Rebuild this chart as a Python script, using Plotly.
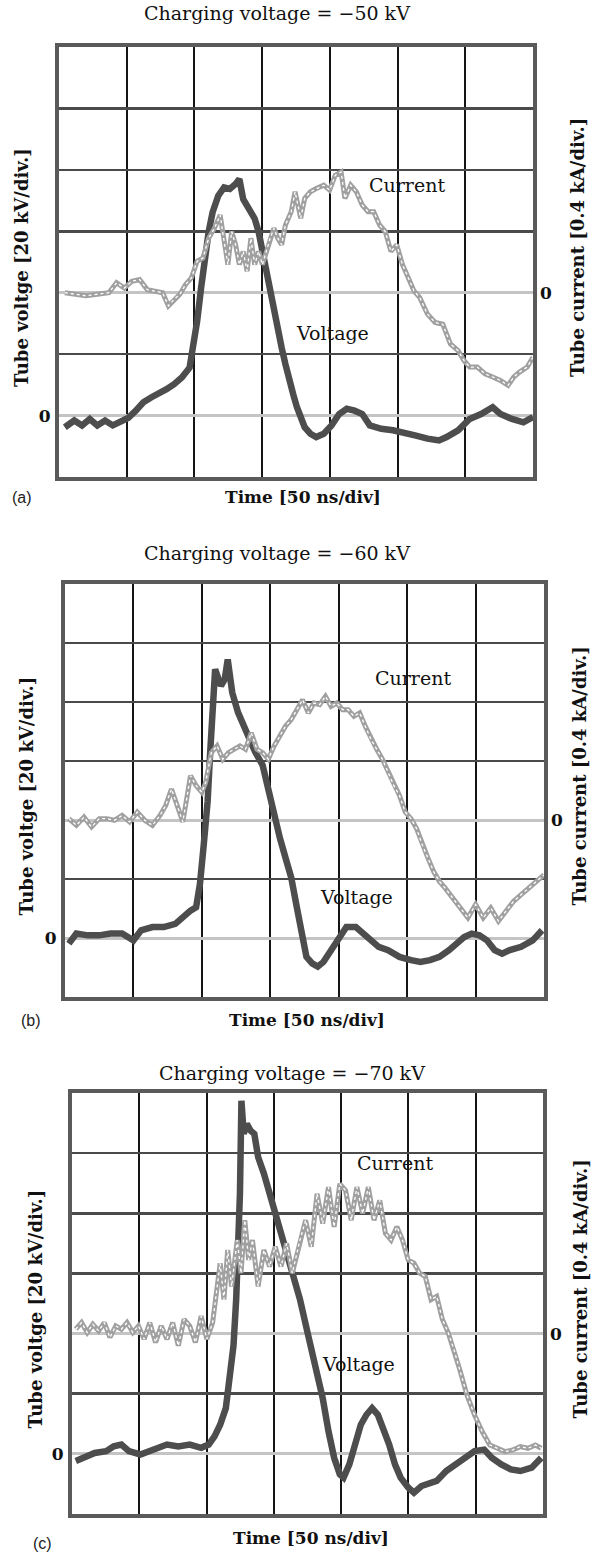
import plotly.graph_objects as go

# ---------------- data (time in ns, voltage in kV, current in kA) ----------------
titles = ["Charging voltage = \u221250 kV", "Charging voltage = \u221260 kV", "Charging voltage = \u221270 kV"]
panel_tags = ["(a)", "(b)", "(c)"]

t_volt_a = [4.3, 11.3, 17, 22.7, 28.3, 34, 39.7, 45.3, 51, 56.7, 62.3, 68, 73.7, 79.4, 85, 90.7, 96.4, 99.2, 102,
            104.9, 107.7, 110.5, 113.4, 117.6, 121.9, 126.1, 130.4, 133.2, 136, 138.9, 141.7, 144.5, 147.4, 150.2,
            153, 155.9, 158.7, 161.5, 164.4, 167.2, 170, 172.9, 175.7, 178.5, 181.4, 185.6, 189.9, 195.5, 201.2,
            206.9, 212.5, 218.2, 223.9, 229.5, 238, 246.6, 255.1, 263.6, 272.1, 280.6, 286.2, 294.7, 303.2, 311.7,
            320.2, 325.9, 334.4, 342.9, 350]
volt_a = [-3.8, -1.6, -3.2, -1.1, -3.2, -1.6, -3.2, -2.2, -0.8, 1.6, 4.3, 5.9, 7.0, 8.6, 10.2, 12.4, 15.6, 22.1, 30.7,
          41.5, 51.2, 59.8, 66.2, 71.6, 74.3, 73.8, 75.4, 77.0, 70.5, 68.4, 66.2, 64.1, 59.8, 53.3, 45.8, 40.4, 35.0,
          28.5, 22.1, 16.7, 11.3, 7.0, 2.7, -0.8, -3.8, -5.9, -7.0, -5.9, -3.2, 0.5, 2.2, 1.6, 0.5, -3.2, -4.3, -4.8,
          -5.9, -6.5, -7.5, -8.1, -7.0, -4.8, -1.1, 0.5, 2.7, 0.5, -1.1, -2.2, -0.5]

t_curr_a = [4.3, 11.3, 19.8, 28.3, 36.8, 42.5, 48.2, 53.8, 59.5, 65.2, 70.9, 76.5, 80.8, 85, 89.3, 93.5, 97.8, 102,
            106.3, 110.5, 114.8, 119, 121.9, 124.7, 127.5, 130.4, 133.2, 136, 138.9, 141.7, 144.5, 147.4, 150.2, 153,
            155.9, 158.7, 161.5, 164.4, 167.2, 171.5, 174.3, 178.5, 181.4, 185.6, 189.9, 195.5, 199.8, 204, 208.3,
            211.1, 215.4, 219.6, 223.9, 228.2, 232.4, 236.7, 240.9, 245.1, 249.4, 253.6, 257.9, 262.1, 266.4, 272.1,
            277.7, 283.4, 289, 294.7, 299, 303.2, 308.9, 314.6, 320.2, 325.9, 331.6, 335.8, 340.1, 345.7, 350]
curr_a = [0, -0.01, -0.02, -0.01, 0, 0.065, 0.03, 0.075, 0.086, 0.02, 0.01, 0, -0.086, -0.043, -0.01, 0.054, 0.097,
          0.205, 0.226, 0.355, 0.42, 0.506, 0.334, 0.183, 0.398, 0.312, 0.183, 0.269, 0.14, 0.355, 0.183, 0.269, 0.183,
          0.269, 0.355, 0.42, 0.355, 0.312, 0.441, 0.528, 0.657, 0.485, 0.614, 0.657, 0.678, 0.7, 0.668, 0.765, 0.786,
          0.614, 0.7, 0.657, 0.571, 0.528, 0.528, 0.441, 0.398, 0.269, 0.312, 0.183, 0.097, 0.011, -0.032, -0.14,
          -0.194, -0.205, -0.334, -0.377, -0.441, -0.484, -0.484, -0.528, -0.549, -0.571, -0.603, -0.549, -0.517,
          -0.484, -0.42]

t_volt_b = [2.8, 8.3, 16.7, 25, 33.3, 41.7, 50, 55.6, 63.9, 72.2, 80.6, 86.1, 91.7, 95.8, 98.6, 101.4, 104.2, 106.1,
            107.8, 109.7, 113.9, 116.7, 118.9, 122.2, 126.4, 130.6, 134.7, 138.9, 144.4, 148.6, 152.8, 157, 161.1,
            165.3, 169.4, 173.6, 176.4, 180.6, 184.7, 188.9, 194.4, 200, 205.6, 212.5, 218.1, 223.6, 229.2, 236.1,
            244.4, 252.8, 259.7, 266.7, 273.6, 280.6, 286.1, 291.7, 297.2, 302.8, 308.3, 313.9, 319.4, 325, 333.3,
            341.7, 348.6]
volt_b = [-1.9, 1.5, 0.9, 0.9, 1.5, 1.5, -0.8, 2.6, 3.7, 3.7, 4.8, 7.1, 9.3, 10.4, 18.3, 31.7, 46.3, 63.1, 79.9, 91.1,
          85.5, 87.7, 94.4, 83.2, 76.5, 72, 68.7, 63.1, 58.6, 49.6, 42.9, 33.9, 27.2, 20.5, 10.4, 1.5, -6.4, -8.6,
          -9.7, -8.1, -4.1, 0.3, 3.7, 3.7, 1.5, -0.8, -3, -4.1, -6.4, -7.5, -8.1, -7.5, -6.4, -4.1, -1.9, 0.3, 1.5,
          0.9, -0.8, -4.1, -5.3, -4.1, -3, -0.8, 2.6]

t_curr_b = [2.8, 8.3, 13.9, 19.4, 25, 30.6, 36.1, 41.7, 47.2, 52.8, 58.3, 63.9, 69.4, 73.6, 77.8, 81.9, 86.1, 88.9,
            91.7, 95.8, 100, 102.8, 106.9, 111.1, 115.3, 119.4, 123.6, 127.8, 131.9, 136.1, 140.3, 144.4, 148.6,
            152.8, 157, 161.1, 165.3, 169.4, 173.6, 177.8, 181.9, 186.1, 190.3, 194.4, 198.6, 202.8, 206.9, 211.1,
            215.3, 219.4, 223.6, 227.8, 231.9, 236.1, 240.3, 244.4, 248.6, 252.8, 256.9, 261.1, 265.3, 269.4, 273.6,
            277.8, 283.3, 288.9, 294.4, 300, 305.6, 311.1, 316.7, 322.2, 327.8, 333.3, 338.9, 344.4, 350]
curr_b = [0.01, -0.036, 0.02, -0.047, 0.009, 0.009, -0.002, 0.031, -0.013, 0.054, -0.002, -0.036, 0.031, 0.099, 0.21,
          0.099, -0.013, 0.143, 0.3, 0.233, 0.188, 0.255, 0.457, 0.502, 0.412, 0.457, 0.479, 0.502, 0.479, 0.591,
          0.479, 0.457, 0.412, 0.502, 0.569, 0.636, 0.681, 0.748, 0.815, 0.726, 0.793, 0.782, 0.838, 0.771, 0.793,
          0.748, 0.748, 0.703, 0.726, 0.636, 0.547, 0.479, 0.412, 0.323, 0.233, 0.166, 0.054, 0.009, -0.058, -0.17,
          -0.26, -0.35, -0.417, -0.462, -0.529, -0.596, -0.663, -0.573, -0.663, -0.596, -0.685, -0.618, -0.551,
          -0.506, -0.462, -0.417, -0.372]

t_volt_c = [2.8, 8.5, 16.9, 25.4, 31, 36.7, 42.3, 50.8, 59.3, 64.9, 70.6, 79, 87.5, 96, 101.6, 105.9, 110.1, 114.3,
            117.2, 120, 122, 123.6, 124.8, 125.9, 127.6, 129.9, 132.7, 135.5, 138.3, 142.6, 146.8, 152.4, 158.1,
            163.7, 169.4, 175, 180.7, 186.3, 190.6, 194.8, 199, 201.8, 206.1, 210.3, 214.6, 218.8, 223, 227.3, 231.5,
            235.7, 240, 244.2, 249.8, 254.1, 259.7, 265.4, 271, 278.1, 285.1, 292.2, 299.2, 306.3, 311.9, 319, 326.1,
            333.2, 341.6, 348.7]
volt_c = [-2.4, -1.3, 0.3, 0.9, 2.5, 3.1, 0.9, -0.2, 1.4, 2, 3.1, 2.5, 3.1, 2, 3.1, 5.8, 9.7, 15.2, 24, 36, 51.4, 69,
          86.6, 117.4, 106.4, 109.7, 107.5, 106.4, 98.7, 93.2, 86.6, 77.8, 69, 60.2, 51.4, 40.4, 29.5, 18.5, 7.5,
          -1.3, -6.8, -7.9, -3.5, 3.1, 9.7, 13, 15.2, 13, 8.6, 3.1, -3.5, -7.9, -11.2, -12.9, -10.7, -10.1, -9, -5.7,
          -3.5, -1.3, 0.9, 1.4, -1.3, -3.5, -5.2, -5.7, -4.6, -1.3]

t_curr_c = [2.8, 7.1, 11.3, 15.5, 19.8, 24, 28.2, 32.5, 36.7, 40.9, 45.2, 49.4, 53.6, 57.8, 62.1, 66.3, 70.6, 74.8,
            79, 83.3, 87.5, 91.7, 96, 100.2, 104.5, 107.3, 110.1, 112.9, 115.7, 118.6, 122.8, 125.6, 128.4, 131.3,
            134.1, 138.3, 142.6, 146.8, 151, 155.3, 159.5, 163.7, 169.4, 173.6, 177.8, 182.1, 186.3, 190.6, 194.8,
            199, 203.3, 207.5, 211.7, 216, 220.2, 224.4, 228.7, 232.9, 237.1, 241.4, 245.6, 249.8, 254.1, 258.3,
            262.5, 266.8, 271, 275.2, 279.5, 283.7, 288, 293.6, 299.2, 304.9, 310.5, 316.2, 321.8, 327.5, 333.1,
            338.8, 344.4, 348.7]
curr_c = [0.029, 0.073, 0.007, 0.062, 0.018, 0.073, -0.026, 0.051, 0.029, 0.073, 0.007, 0.051, -0.037, 0.073, -0.059,
          0.051, -0.037, 0.073, -0.081, 0.095, 0.051, -0.059, 0.116, -0.037, 0.073, 0.27, 0.468, 0.226, 0.556, 0.314,
          0.622, 0.402, 0.754, 0.49, 0.622, 0.314, 0.556, 0.446, 0.578, 0.446, 0.6, 0.402, 0.622, 0.754, 0.578, 0.93,
          0.732, 0.974, 0.71, 0.996, 0.952, 0.754, 0.974, 0.798, 0.974, 0.754, 0.886, 0.666, 0.622, 0.71, 0.622,
          0.49, 0.468, 0.402, 0.38, 0.226, 0.248, 0.095, 0.007, -0.103, -0.235, -0.411, -0.543, -0.653, -0.741,
          -0.763, -0.785, -0.774, -0.752, -0.763, -0.741, -0.763]

# label anchor positions (data coordinates: ns, kV)
current_label_pos = [(257, 75), (254, 88), (240, 96.7)]
voltage_label_pos = [(202, 27), (213, 14), (213, 30)]

time_ticks = [0, 50, 100, 150, 200, 250, 300, 350]
volt_ticks = [-20, 0, 20, 40, 60, 80, 100, 120]
curr_ticks = [0]

# ---------------- layout geometry (pixels) ----------------
W, H = 592, 1555
frames = [(59, 533, 47, 477), (65, 544, 584, 997), (72, 543, 1093, 1514)]
title_xy = [(277, 13), (277, 553), (292, 1073)]
time_xy = [(303, 497), (307, 1020), (311, 1538)]
tag_xy = [(22, 497), (31, 1020), (43, 1543)]
left_title_x = [21, 26, 35]
right_title_x = [577, 579, 580]

SERIF = "DejaVu Serif"
SANS = "Liberation Sans"

fig = go.Figure()
data_sets = [(t_volt_a, volt_a, t_curr_a, curr_a),
             (t_volt_b, volt_b, t_curr_b, curr_b),
             (t_volt_c, volt_c, t_curr_c, curr_c)]

layout = dict(width=W, height=H, margin=dict(l=0, r=0, t=0, b=0),
              paper_bgcolor="white", plot_bgcolor="white", showlegend=False)
annotations = []

for i, (tv, v, tc, c) in enumerate(data_sets):
    xn = "x" if i == 0 else f"x{i + 1}"
    yv = f"y{2 * i + 1}" if i > 0 else "y"
    yc = f"y{2 * i + 2}"
    xl = "xaxis" if i == 0 else f"xaxis{i + 1}"
    yvl = "yaxis" if i == 0 else f"yaxis{2 * i + 1}"
    ycl = f"yaxis{2 * i + 2}"
    x0, x1, y0, y1 = frames[i]
    dx = [x0 / W, x1 / W]
    dy = [1 - y1 / H, 1 - y0 / H]

    # current trace: grey band with a white speckled core
    fig.add_trace(go.Scatter(x=tc, y=c, xaxis=xn, yaxis=yc, mode="lines",
                             line=dict(color="#a0a0a0", width=5), hoverinfo="skip"))
    fig.add_trace(go.Scatter(x=tc, y=c, xaxis=xn, yaxis=yc, mode="lines",
                             line=dict(color="#ffffff", width=1.3, dash="dot"), hoverinfo="skip"))
    # voltage trace: thick dark band
    fig.add_trace(go.Scatter(x=tv, y=v, xaxis=xn, yaxis=yv, mode="lines",
                             line=dict(color="#4d4d4d", width=6.5), hoverinfo="skip"))

    layout[xl] = dict(domain=dx, anchor=yv, range=[0, 350], tickvals=time_ticks,
                      showticklabels=False, ticks="", showgrid=True, gridcolor="#151515", gridwidth=2,
                      zeroline=False, showline=True, mirror=True, linecolor="#5a5a5a", linewidth=4,
                      fixedrange=True)
    layout[yvl] = dict(domain=dy, anchor=xn, range=[-20, 120], tickvals=volt_ticks,
                       ticktext=["<b>0</b>" if t == 0 else "" for t in volt_ticks],
                       tickfont=dict(family=SERIF, size=17, color="#111"), ticks="", ticklabelstandoff=1,
                       showgrid=True, gridcolor="#4a4a4a", gridwidth=2.5,
                       zeroline=True, zerolinecolor="#c4c4c4", zerolinewidth=3,
                       showline=True, mirror=True, linecolor="#5a5a5a", linewidth=4, fixedrange=True)
    layout[ycl] = dict(overlaying=yv, anchor=xn, side="right", range=[-1.2, 1.6], tickvals=curr_ticks,
                       ticktext=["<b>0</b>"], tickfont=dict(family=SERIF, size=17, color="#111"), ticks="",
                       ticklabelstandoff=6, showgrid=False, zeroline=True, zerolinecolor="#c4c4c4",
                       zerolinewidth=3, showline=False, fixedrange=True)

    # titles and labels
    tx, ty = title_xy[i]
    annotations.append(dict(text=titles[i], x=tx / W, y=1 - ty / H, xref="paper", yref="paper",
                            showarrow=False, xanchor="center", yanchor="middle",
                            font=dict(family=SERIF, size=19, color="#111")))
    tx, ty = time_xy[i]
    annotations.append(dict(text="<b>Time [50 ns/div]</b>", x=tx / W, y=1 - ty / H, xref="paper", yref="paper",
                            showarrow=False, xanchor="center", yanchor="middle",
                            font=dict(family=SERIF, size=17, color="#111")))
    tx, ty = tag_xy[i]
    annotations.append(dict(text=panel_tags[i], x=tx / W, y=1 - ty / H, xref="paper", yref="paper",
                            showarrow=False, xanchor="center", yanchor="middle",
                            font=dict(family=SANS, size=16, color="#222")))
    cy = (y0 + y1) / 2
    annotations.append(dict(text="<b>Tube voltge [20 kV/div.]</b>", x=left_title_x[i] / W, y=1 - (cy + 6) / H,
                            xref="paper", yref="paper", showarrow=False, textangle=-90,
                            xanchor="center", yanchor="middle", font=dict(family=SERIF, size=18, color="#111")))
    annotations.append(dict(text="<b>Tube current [0.4 kA/div.]</b>", x=right_title_x[i] / W, y=1 - (cy - 14) / H,
                            xref="paper", yref="paper", showarrow=False, textangle=-90,
                            xanchor="center", yanchor="middle", font=dict(family=SERIF, size=18, color="#111")))
    cx_, cy_ = current_label_pos[i]
    annotations.append(dict(text="Current", x=cx_, y=cy_, xref=xn, yref=yv, showarrow=False,
                            font=dict(family=SERIF, size=19, color="#111")))
    vx_, vy_ = voltage_label_pos[i]
    annotations.append(dict(text="Voltage", x=vx_, y=vy_, xref=xn, yref=yv, showarrow=False,
                            font=dict(family=SERIF, size=19, color="#111")))

layout["annotations"] = annotations
fig.update_layout(**layout)
fig.write_html("out.html", config={"displayModeBar": False, "staticPlot": True},
               post_script="document.body.style.margin='0px';document.body.style.padding='0px';")
